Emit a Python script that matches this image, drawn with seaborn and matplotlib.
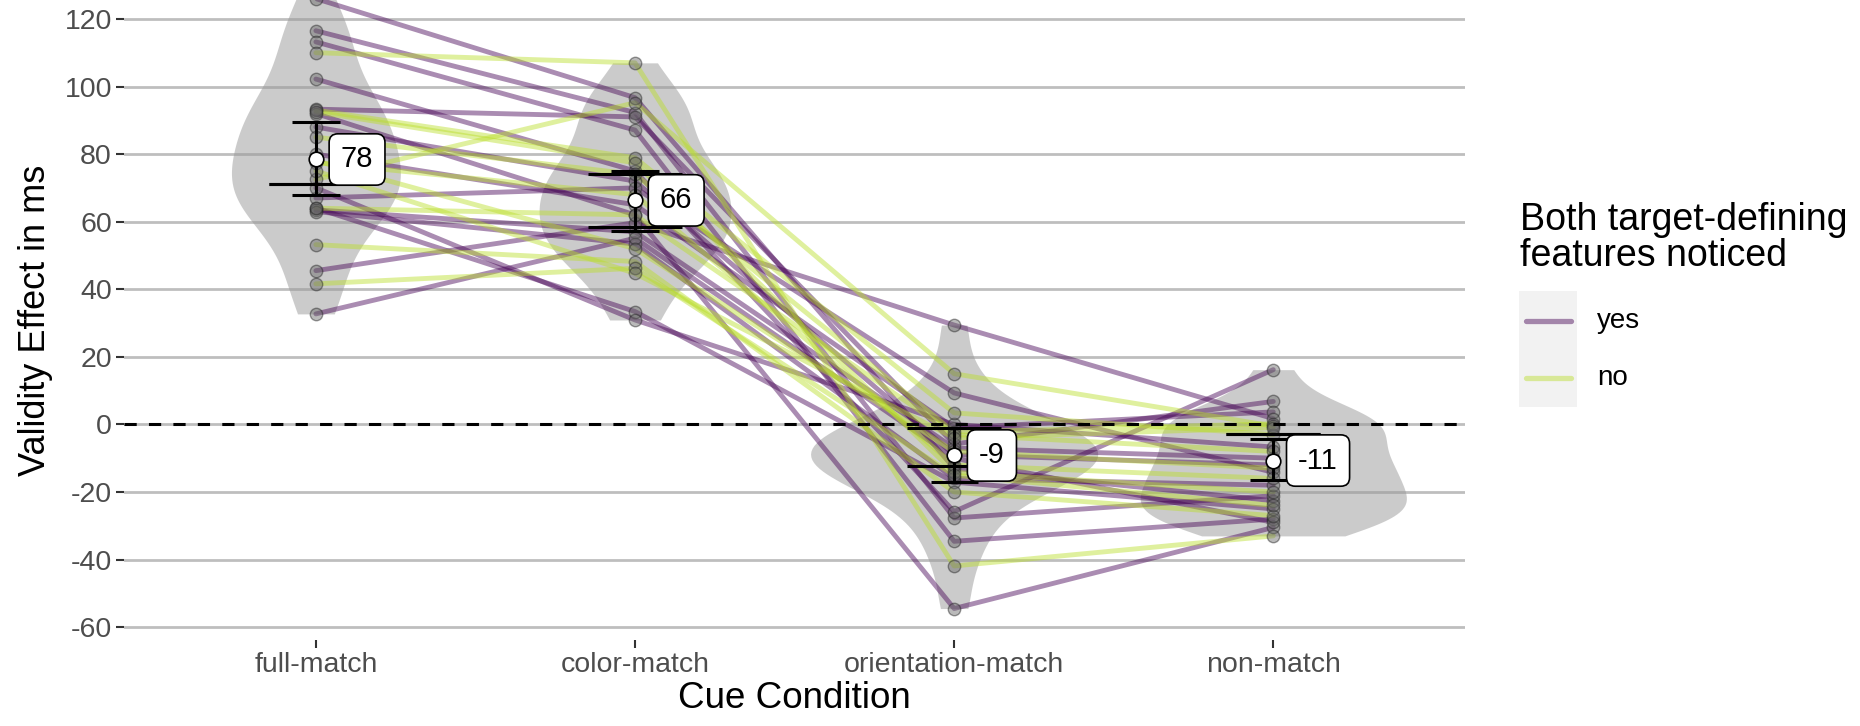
import matplotlib
matplotlib.use("Agg")
import matplotlib.pyplot as plt
from matplotlib.lines import Line2D
from matplotlib.patches import Rectangle
import pandas as pd
import seaborn as sns

# conditions and per-subject validity effects (ms)
conditions = ["full-match", "color-match", "orientation-match", "non-match"]

noticed = ["yes"] * 15 + ["no"] * 11

full_match = [126, 116.5, 113.2, 102.2, 93.3, 92, 88, 80, 64, 67, 70, 63.5, 63, 45.5, 32.7,
              110, 93, 92.5, 85, 78, 77.5, 72.5, 64, 53.2, 41.6, 75]
color_match = [96.7, 92.3, 87.1, 75, 91, 62, 72, 65, 33.4, 70, 30.9, 57, 53.4, 59.7, 55.1,
               107, 78.9, 77.4, 74, 52, 68, 95.2, 62, 48.2, 46.2, 44.7]
orientation_match = [-13, -27.7, -34.6, -25.8, -5.8, -54.5, -9, -1, -17.1, 9.3, 0, -7, -16, 29.4, -10,
                     -41.9, 3.4, -14.2, -2.3, -8, -12, 15, -3, -20, -15, -4]
non_match = [-22.6, -21.1, -28, 16.2, 6.8, -30.5, -12, 3.7, -25, -14.2, -6.7, -10, -18, 1.7, -29,
             -33, -3, -20, 0.2, -13, -16, -0.5, -8, -27, -24, -1]

# summary marks: condition means and the two sets of interval bars
means = [78.4, 66.3, -9.2, -10.7]
mean_labels = ["78", "66", "-9", "-11"]
ci_low = [67.8, 57.3, -17.1, -16.6]
ci_high = [89.5, 75.1, -1.1, -4.3]
wide_low = [71.0, 58.4, -12.4, -2.8]
wide_high = [71.0, 74.0, -1.1, -2.8]

group_colors = {"yes": "#440154", "no": "#BADE28"}

rows = []
for cond, vals in zip(conditions, [full_match, color_match, orientation_match, non_match]):
    for subj, (v, g) in enumerate(zip(vals, noticed)):
        rows.append({"subject": subj, "cond": cond, "pos": conditions.index(cond),
                     "value": v, "noticed": g})
df = pd.DataFrame(rows)

sns.set_style("white")
plt.rcParams["font.family"] = ["Liberation Sans", "DejaVu Sans"]
plt.rcParams["axes.unicode_minus"] = False
plt.rcParams["text.color"] = "black"
plt.rcParams["axes.labelcolor"] = "black"

fig = plt.figure(figsize=(18.6, 7.26), dpi=100)
ax = fig.add_axes([0.0669, 0.1185, 0.7206, 0.8815])

ax.yaxis.grid(True, color="#BEBEBE", lw=2.0, zorder=0)
ax.set_axisbelow(True)

sns.violinplot(data=df, x="pos", y="value", order=[0, 1, 2, 3], native_scale=True,
               color="#999999", saturation=1, alpha=0.5, linewidth=0, inner=None,
               cut=0, width=0.9, density_norm="area", bw_adjust=0.85, ax=ax)

sns.lineplot(data=df, x="pos", y="value", hue="noticed", units="subject", estimator=None,
             palette=group_colors, hue_order=["yes", "no"], lw=3.5, alpha=0.45,
             legend=False, ax=ax, zorder=2)

sns.scatterplot(data=df, x="pos", y="value", color="#666666", alpha=0.45, s=80,
                edgecolor="#222222", linewidth=1.0, legend=False, ax=ax, zorder=3)

ax.axhline(0, color="black", lw=2.2, dashes=(4, 4), zorder=4)

xs = list(range(len(conditions)))
ax.vlines(xs, ci_low, ci_high, color="black", lw=2.2, zorder=5)
ax.hlines(ci_low + ci_high, [x - 0.074 for x in xs] * 2, [x + 0.074 for x in xs] * 2,
          color="black", lw=2.2, zorder=5)
ax.hlines(wide_low + wide_high, [x - 0.147 for x in xs] * 2, [x + 0.147 for x in xs] * 2,
          color="black", lw=2.2, zorder=5)
ax.scatter(xs, means, s=110, facecolor="white", edgecolor="black", linewidth=1.2, zorder=6)

for x, m, lab in zip(xs, means, mean_labels):
    ax.text(x + 0.078, m, lab, ha="left", va="center", fontsize=21, zorder=7,
            bbox=dict(boxstyle="round,pad=0.4,rounding_size=0.3", fc="white", ec="black", lw=1.2))

ax.set_xlim(-0.6, 3.6)
ax.set_ylim(-63.8, 125.6)
ax.set_xticks(xs)
ax.set_xticklabels(conditions)
ax.set_yticks(range(-60, 121, 20))
ax.tick_params(axis="both", which="both", length=6, width=1.5, color="#333333",
               labelsize=20.5, labelcolor="#4D4D4D", pad=3, left=True, bottom=True)
ax.set_xlabel("Cue Condition", fontsize=26.5, labelpad=2)
ax.set_ylabel("Validity Effect in ms", fontsize=26, labelpad=8)
for s in ax.spines.values():
    s.set_visible(False)

# legend drawn by hand so the key area gets its grey background
fig.text(1520 / 1860, 1 - 202 / 726, "Both target-defining\nfeatures noticed",
         fontsize=27, ha="left", va="top", linespacing=1.0)
fig.patches.append(Rectangle((1519 / 1860, 1 - 407 / 726), 58 / 1860, 116 / 726,
                             transform=fig.transFigure, fc="#F2F2F2", ec="none"))
for y, g in [(321, "yes"), (378, "no")]:
    fig.lines.append(Line2D([1526 / 1860, 1571 / 1860], [1 - y / 726, 1 - y / 726],
                            transform=fig.transFigure, color=group_colors[g], lw=3.8, alpha=0.45))
    fig.text(1597 / 1860, 1 - y / 726, g, fontsize=20, ha="left", va="center")

fig.savefig("out.png", dpi=100)
